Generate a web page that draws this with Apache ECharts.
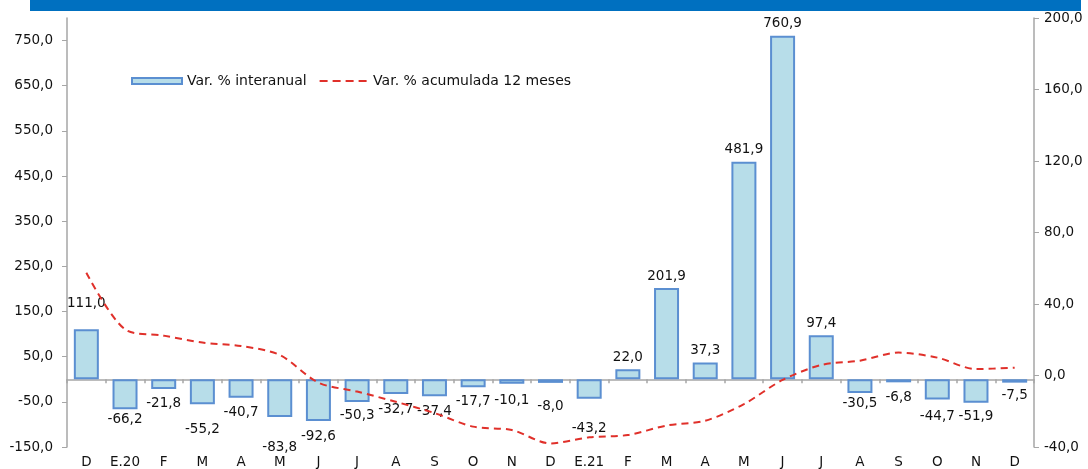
<!DOCTYPE html>
<html>
<head>
<meta charset="utf-8">
<script src="https://cdn.jsdelivr.net/npm/echarts@6/dist/echarts.min.js"></script>
<style>html,body{margin:0;padding:0;background:#fff}#c{width:1088px;height:469px}</style>
</head>
<body>
<div id="c"></div>
<script>
var categories = ['D','E.20','F','M','A','M','J','J','A','S','O','N','D','E.21','F','M','A','M','J','J','A','S','O','N','D'];
var interanual = [111.0,-66.2,-21.8,-55.2,-40.7,-83.8,-92.6,-50.3,-32.7,-37.4,-17.7,-10.1,-8.0,-43.2,22.0,201.9,37.3,481.9,760.9,97.4,-30.5,-6.8,-44.7,-51.9,-7.5];
var acumulada = [57.5,25.8,22.3,18.4,16.5,11.5,-4,-9,-14.7,-21,-28.6,-30.5,-38,-34.6,-33.3,-28,-25.3,-16,-2.5,5.9,8.3,12.8,10,3.6,4.4];
var leftTicks = [-150,-50,50,150,250,350,450,550,650,750];
var seriesNames = ['Var. % interanual','Var. % acumulada 12 meses'];

// label nudges (style only, pixels)
var labelNudge = [-14,-4,0,11,1,16,1,0,1,1,0,3,10,16,0,0,0,0,0,0,-4,1,3,0,-1];

var FONT = 'DejaVu Sans';
var FS = 13.5;
var RED = '#e0302a';
function fmt(v){ return v.toFixed(1).replace('.', ','); }

var dashIcon = 'path://M0,0L0,6 M0,2.1h8v1.8h-8z M13,2.1h8v1.8h-8z M26,2.1h8v1.8h-8z M39,2.1h8v1.8h-8z M47,0L47,6';

var barData = interanual.map(function(v, i){
  var neg = v < 0;
  return {
    value: v,
    label: {
      position: neg ? 'bottom' : 'top',
      distance: neg ? 7 : 5,
      offset: [0, labelNudge[i]]
    }
  };
});

var chart = echarts.init(document.getElementById('c'), null, {renderer: 'canvas'});
chart.setOption({
  animation: false,
  backgroundColor: '#ffffff',
  textStyle: {fontFamily: FONT},
  graphic: [{
    type: 'rect', left: 30, top: 0,
    shape: {width: 1051, height: 11},
    style: {fill: '#0070c0'}, silent: true
  }],
  grid: {left: 67, right: 54, top: 18, bottom: 22, containLabel: false},
  legend: {
    left: 126, top: 69,
    itemWidth: 50, itemHeight: 6, itemGap: 13,
    textStyle: {fontFamily: FONT, fontSize: 14, color: '#111'},
    data: [
      {name: seriesNames[0], icon: 'rect'},
      {name: seriesNames[1], icon: dashIcon, itemStyle: {color: RED, borderWidth: 0}}
    ]
  },
  xAxis: [{
    type: 'category', data: categories, position: 'bottom',
    axisLine: {show: false, onZero: false},
    axisTick: {show: false},
    axisLabel: {fontFamily: FONT, fontSize: FS, color: '#111', margin: 8, interval: 0}
  },{
    type: 'category', data: categories, position: 'top',
    axisLine: {show: true, onZero: true, onZeroAxisIndex: 0, lineStyle: {color: '#a6a6a6', width: 1.5}},
    axisTick: {show: true, inside: true, length: 4, lineStyle: {color: '#a6a6a6', width: 1.5}},
    axisLabel: {show: false},
    splitLine: {show: false}
  }],
  yAxis: [{
    type: 'value', min: -150, max: 800, position: 'left',
    axisLine: {show: true, lineStyle: {color: '#a6a6a6', width: 1.5}},
    axisTick: {show: true, length: 5, customValues: leftTicks, lineStyle: {color: '#a6a6a6'}},
    axisLabel: {customValues: leftTicks, fontFamily: FONT, fontSize: FS, color: '#111', margin: 14,
      formatter: function(v){ return fmt(v); }},
    splitLine: {show: false}
  },{
    type: 'value', min: -40, max: 200, interval: 40, position: 'right',
    axisLine: {show: true, lineStyle: {color: '#a6a6a6', width: 1.5}},
    axisTick: {show: true, length: 5, lineStyle: {color: '#a6a6a6'}},
    axisLabel: {fontFamily: FONT, fontSize: FS, color: '#111', margin: 10,
      formatter: function(v){ return fmt(v); }},
    splitLine: {show: false}
  }],
  series: [{
    name: seriesNames[0], type: 'bar', xAxisIndex: 0, yAxisIndex: 0,
    data: barData, barWidth: 25,
    itemStyle: {color: '#b7dde9', borderColor: '#5b8fd1', borderWidth: 2},
    label: {show: true, fontFamily: FONT, fontSize: FS, color: '#111',
      formatter: function(p){ return fmt(p.value); }},
    z: 2
  },{
    name: seriesNames[1], type: 'line', xAxisIndex: 0, yAxisIndex: 1,
    data: acumulada, smooth: 0.3, symbol: 'none', showSymbol: false,
    lineStyle: {color: RED, width: 2, type: [7, 5]},
    itemStyle: {color: RED},
    z: 5
  }]
});
</script>
</body>
</html>
